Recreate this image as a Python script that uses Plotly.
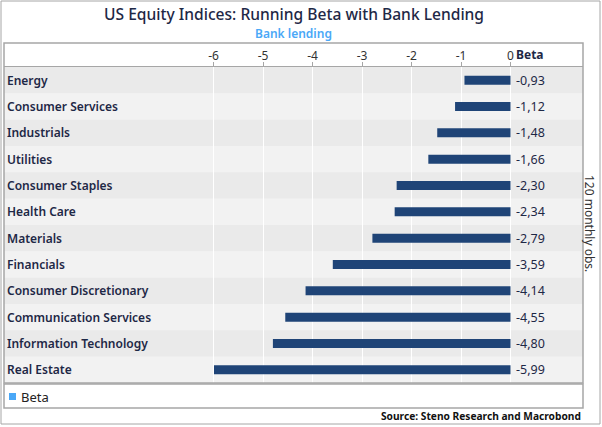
import plotly.graph_objects as go

categories = ["Energy", "Consumer Services", "Industrials", "Utilities", "Consumer Staples",
              "Health Care", "Materials", "Financials", "Consumer Discretionary",
              "Communication Services", "Information Technology", "Real Estate"]
beta = [-0.93, -1.12, -1.48, -1.66, -2.30, -2.34, -2.79, -3.59, -4.14, -4.55, -4.80, -5.99]
tick_vals = [-6, -5, -4, -3, -2, -1, 0]
tick_text = ["-6", "-5", "-4", "-3", "-2", "-1", "0"]

W, H = 602, 427
L, R, T, B = 4, 19, 67, 44
PW, PH = W - L - R, H - T - B

def px_x(x):
    return (x - L) / PW

def px_y(y):
    return (H - B - y) / PH

NAVY = "#1e2846"
FONT = "Noto Sans"

fig = go.Figure()
fig.add_trace(go.Bar(
    y=categories, x=beta, orientation="h", width=0.34,
    marker=dict(color="#1f4477", line=dict(width=0)),
    showlegend=False, hoverinfo="x+y",
))

shapes = []
# alternating row bands
for i, c in enumerate(categories):
    shapes.append(dict(type="rect", xref="paper", yref="y", x0=0, x1=1,
                       y0=i - 0.5, y1=i + 0.5, layer="below", line=dict(width=0),
                       fillcolor="#eaeaea" if i % 2 == 0 else "#f2f2f2"))
# outer border
shapes.append(dict(type="rect", xref="paper", yref="paper", x0=px_x(1), x1=px_x(600),
                   y0=px_y(424), y1=px_y(1), line=dict(color="#a6a6a6", width=1)))
# panel box
shapes.append(dict(type="rect", xref="paper", yref="paper", x0=px_x(4), x1=px_x(583),
                   y0=px_y(383), y1=px_y(43), line=dict(color="#a6a6a6", width=1.5)))
# legend box
shapes.append(dict(type="rect", xref="paper", yref="paper", x0=px_x(4), x1=px_x(583),
                   y0=px_y(408), y1=px_y(384), line=dict(color="#a6a6a6", width=1.5)))
# legend marker
shapes.append(dict(type="rect", xref="paper", yref="paper", x0=px_x(9), x1=px_x(16),
                   y0=px_y(400), y1=px_y(393), line=dict(width=0), fillcolor="#4aa8f7"))

annotations = []
for c in categories:
    annotations.append(dict(x=px_x(5), xref="paper", y=c, yref="y", text=c,
                            xanchor="left", yanchor="middle", showarrow=False,
                            font=dict(family=FONT, size=12, color=NAVY, weight=600)))
for c, v in zip(categories, beta):
    annotations.append(dict(x=0, xref="x", y=c, yref="y", xshift=3,
                            text=f"{v:.2f}".replace(".", ","),
                            xanchor="left", yanchor="middle", showarrow=False,
                            font=dict(family=FONT, size=12.5, color=NAVY)))
annotations += [
    dict(x=0.5, xref="paper", y=px_y(14), yref="paper", text="US Equity Indices: Running Beta with Bank Lending",
         showarrow=False, xanchor="center", yanchor="middle",
         font=dict(family=FONT, size=15.6, color=NAVY, weight=500)),
    dict(x=px_x(293), xref="paper", y=px_y(33), yref="paper", text="Bank lending",
         showarrow=False, xanchor="center", yanchor="middle",
         font=dict(family=FONT, size=12, color="#4aa8f7", weight=600)),
    dict(x=0, xref="x", y=px_y(54), yref="paper", xshift=3, text="<b>Beta</b>",
         showarrow=False, xanchor="left", yanchor="middle",
         font=dict(family=FONT, size=12, color=NAVY)),
    dict(x=px_x(590), xref="paper", y=px_y(224), yref="paper", text="120 monthly obs.",
         showarrow=False, xanchor="center", yanchor="middle", textangle=90,
         font=dict(family=FONT, size=12, color="#333333")),
    dict(x=px_x(19), xref="paper", y=px_y(396.5), yref="paper", text="Beta",
         showarrow=False, xanchor="left", yanchor="middle",
         font=dict(family=FONT, size=13, color="#222222")),
    dict(x=px_x(583), xref="paper", y=px_y(416), yref="paper",
         text="<b>Source: Steno Research and Macrobond</b>",
         showarrow=False, xanchor="right", yanchor="middle",
         font=dict(family=FONT, size=10.2, color="#111111")),
]

x0px = 510.5
scale = 49.5
xr = [(L - x0px) / scale, (L + PW - x0px) / scale]

fig.update_layout(
    width=W, height=H,
    margin=dict(l=L, r=R, t=T, b=B, pad=0),
    paper_bgcolor="white", plot_bgcolor="#f2f2f2",
    bargap=0.66,
    shapes=shapes, annotations=annotations,
    font=dict(family=FONT, color="#333333"),
    xaxis=dict(range=xr, side="top", tickvals=tick_vals, ticktext=tick_text,
               showgrid=True, gridcolor="white", gridwidth=1.3, zeroline=False,
               showline=True, linecolor="#a6a6a6", linewidth=1,
               ticks="outside", ticklen=4, tickcolor="#a6a6a6",
               ticklabelstandoff=-3,
               tickfont=dict(family=FONT, size=12, color="#333333"),
               fixedrange=True),
    yaxis=dict(categoryorder="array", categoryarray=categories, autorange="reversed",
               showticklabels=False, showgrid=False, zeroline=False, showline=False,
               range=[len(categories) - 0.5, -0.5], fixedrange=True),
)

fig.write_html("out.html")
